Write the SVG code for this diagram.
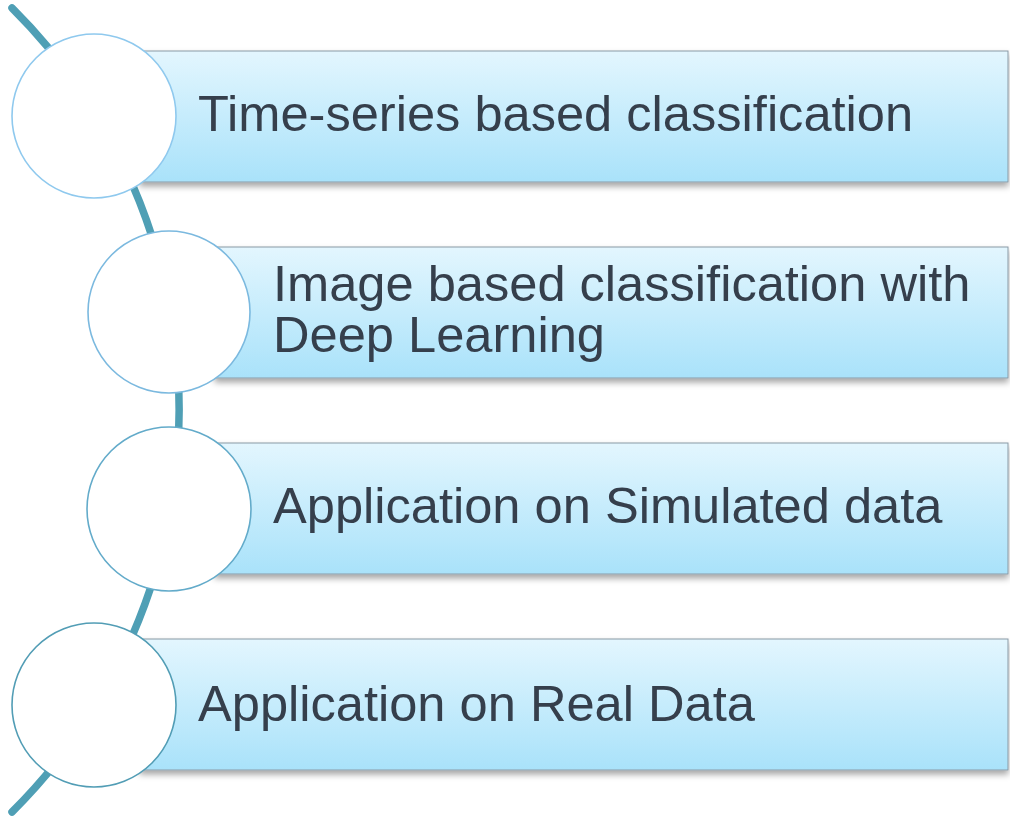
<svg xmlns="http://www.w3.org/2000/svg" width="1010" height="819" viewBox="0 0 1010 819">
  <defs>
    <linearGradient id="barGrad" x1="0" y1="0" x2="0" y2="1">
      <stop offset="0" stop-color="#e3f6fe"/>
      <stop offset="1" stop-color="#a9e2fa"/>
    </linearGradient>
    <filter id="shadow" x="-5%" y="-10%" width="110%" height="130%">
      <feDropShadow dx="0" dy="4" stdDeviation="3" flood-color="#000" flood-opacity="0.35"/>
    </filter>
  </defs>
  <style>
    .bar { fill: url(#barGrad); stroke: #8a9aa6; stroke-width: 1; filter: url(#shadow); }
    .node-circle { fill: #ffffff; stroke-width: 1.6; }
    .label { font-family: "Liberation Sans", Arial, sans-serif; font-size: 50.6px; fill: #353f4c; }
    .arc { fill: none; stroke: #4f9fb5; stroke-width: 7.5; stroke-linecap: round; }
  </style>

  <g id="connectors">
    <path class="arc" d="M 12 8 A 567 567 0 0 1 12 812"/>
  </g>

  <g id="node1">
    <rect class="bar" x="140" y="51" width="868" height="131"/>
    <circle class="node-circle" cx="94" cy="116" r="82" stroke="#8fc9ee"/>
    <text class="label" x="198" y="131">Time-series based classification</text>
  </g>

  <g id="node2">
    <rect class="bar" x="215" y="247" width="793" height="131"/>
    <circle class="node-circle" cx="169" cy="312" r="81" stroke="#7bb9df"/>
    <text class="label" x="273" y="301">Image based classification with</text>
    <text class="label" x="273" y="352">Deep Learning</text>
  </g>

  <g id="node3">
    <rect class="bar" x="215" y="443" width="793" height="131"/>
    <circle class="node-circle" cx="169" cy="509" r="82" stroke="#63abca"/>
    <text class="label" x="273" y="523">Application on Simulated data</text>
  </g>

  <g id="node4">
    <rect class="bar" x="140" y="639" width="868" height="131"/>
    <circle class="node-circle" cx="94" cy="705" r="82" stroke="#529db5"/>
    <text class="label" x="198" y="721">Application on Real Data</text>
  </g>
</svg>
